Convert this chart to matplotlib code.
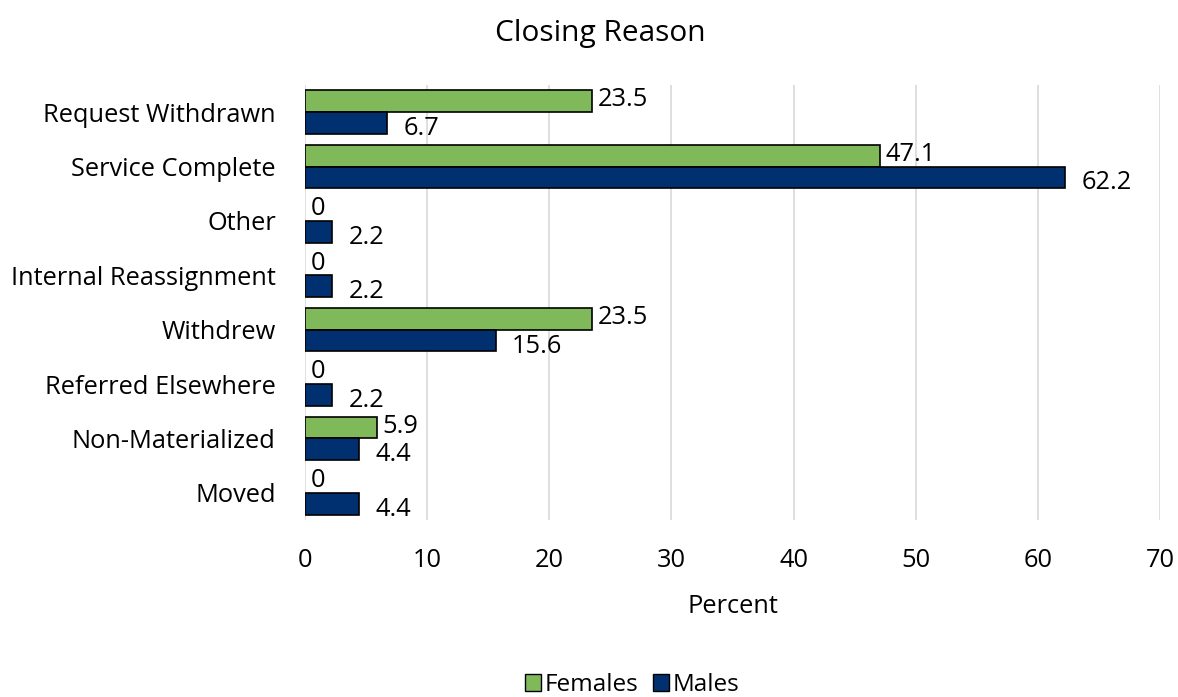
import numpy as np
import matplotlib.pyplot as plt
from matplotlib.patches import Patch

plt.rcParams['font.family'] = ['Open Sans', 'DejaVu Sans']

categories = ["Request Withdrawn", "Service Complete", "Other",
              "Internal Reassignment", "Withdrew", "Referred Elsewhere",
              "Non-Materialized", "Moved"]
females = [23.5, 47.1, 0, 0, 23.5, 0, 5.9, 0]
males = [6.7, 62.2, 2.2, 2.2, 15.6, 2.2, 4.4, 4.4]

green = "#7fb95a"
navy = "#003070"
fs = 18.3

fig = plt.figure(figsize=(11.78, 6.97), dpi=100)
ax = fig.add_axes([305 / 1178, 1 - 520 / 697, 855 / 1178, 435 / 697])

y = np.arange(len(categories))
h = 0.4
# zero-length bars get no outline
lw_f = [1.2 if v > 0 else 0 for v in females]
lw_m = [1.2 if v > 0 else 0 for v in males]
ax.barh(y - h / 2, females, height=h, color=green, edgecolor="black", linewidth=lw_f, zorder=3)
ax.barh(y + h / 2, males, height=h, color=navy, edgecolor="black", linewidth=lw_m, zorder=3)

for yy, v in zip(y, females):
    ax.annotate(f"{v:g}", (v, yy - h / 2), xytext=(4, 1), textcoords="offset points",
                ha="left", va="center", fontsize=fs, zorder=4)
for yy, v in zip(y, males):
    ax.annotate(f"{v:g}", (v, yy + h / 2), xytext=(12, -4), textcoords="offset points",
                ha="left", va="center", fontsize=fs, zorder=4)

ax.set_xlim(0, 70)
ax.set_ylim(len(categories) - 0.5, -0.5)
ax.set_xticks(range(0, 71, 10))
ax.set_yticks(y)
ax.set_yticklabels(categories)
ax.tick_params(axis="both", length=0, labelsize=fs)
ax.tick_params(axis="x", pad=20)
ax.tick_params(axis="y", pad=21)
ax.grid(axis="x", color="#d9d9d9", linewidth=1.2, zorder=0)
for s in ax.spines.values():
    s.set_visible(False)

ax.set_xlabel("Percent", fontsize=fs, labelpad=15)
fig.text(600 / 1178, 1 - 33 / 697, "Closing Reason", fontsize=21.5, ha="center", va="center")

handles = [Patch(facecolor=green, edgecolor="black", label="Females"),
           Patch(facecolor=navy, edgecolor="black", label="Males")]
fig.legend(handles=handles, loc="center", bbox_to_anchor=(632 / 1178, 1 - 685 / 697), ncol=2,
           frameon=False, fontsize=17.5, handlelength=0.65, handleheight=0.65,
           handletextpad=0.15, columnspacing=0.6)

fig.savefig("out.png", dpi=100)
